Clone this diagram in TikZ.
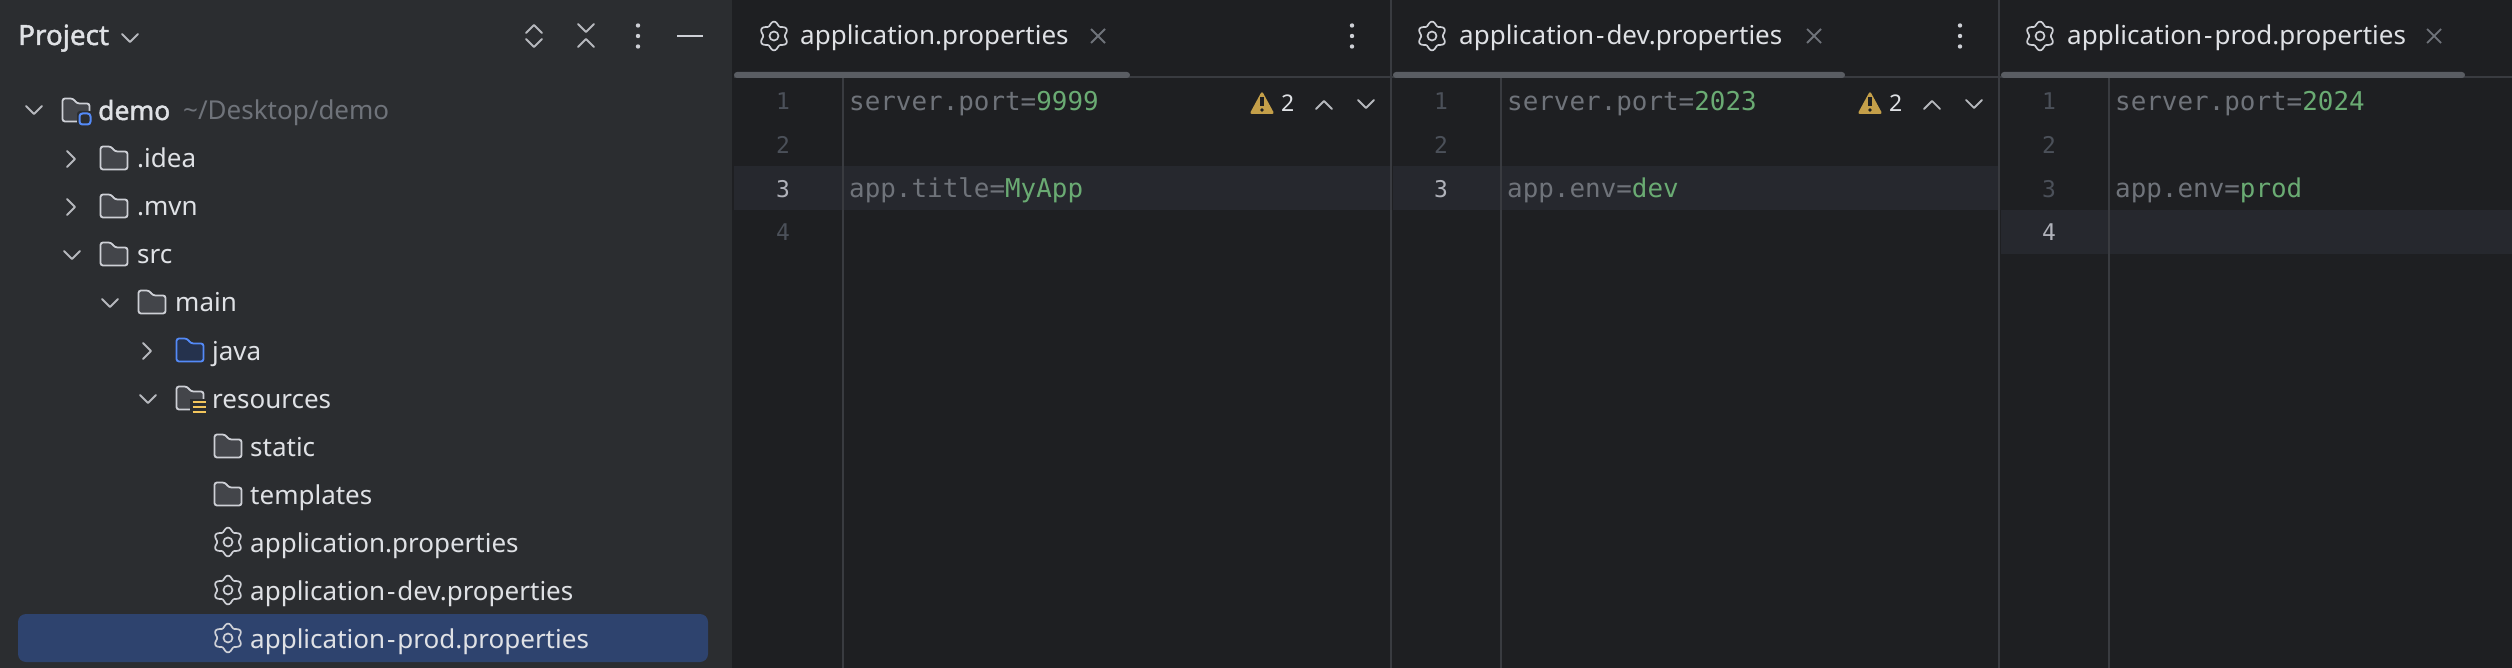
\documentclass[tikz,border=0pt]{standalone}
\usepackage{fontspec}
\setmainfont{Noto Sans}
\setmonofont{DejaVu Sans Mono}
\newfontfamily\heavyface[FakeBold=1.6]{Noto Sans}
\definecolor{sidebg}{RGB}{43, 45, 48}
\definecolor{editbg}{RGB}{30, 31, 34}
\definecolor{rowbg}{RGB}{38, 40, 46}
\definecolor{selbg}{RGB}{46, 67, 110}
\definecolor{divline}{RGB}{57, 59, 64}
\definecolor{tabmark}{RGB}{90, 93, 99}
\definecolor{uitext}{RGB}{223, 225, 229}
\definecolor{iconline}{RGB}{206, 208, 214}
\definecolor{mutedtext}{RGB}{111, 115, 122}
\definecolor{keygray}{RGB}{111, 115, 122}
\definecolor{valgreen}{RGB}{106, 171, 115}
\definecolor{numdim}{RGB}{75, 80, 89}
\definecolor{numcur}{RGB}{176, 178, 186}
\definecolor{folderfill}{RGB}{67, 69, 74}
\definecolor{bluefolder}{RGB}{84, 138, 247}
\definecolor{bluefill}{RGB}{37, 50, 77}
\definecolor{warnyellow}{RGB}{196, 159, 73}
\definecolor{resyellow}{RGB}{242, 197, 92}
\usetikzlibrary{positioning}
\tikzset{
  uilabel/.style={inner sep=0pt, anchor=base west, text=uitext, font=\fontsize{26}{30}\selectfont},
  boldlabel/.style={uilabel, font=\fontsize{26.5}{30}\selectfont\heavyface},
  codeline/.style={inner sep=0pt, anchor=base west, text=keygray, font=\fontsize{25.9}{30}\selectfont\ttfamily},
  linenum/.style={inner sep=0pt, anchor=base, text=numdim, font=\fontsize{23}{28}\selectfont\ttfamily},
  curnum/.style={linenum, text=numcur},
  chev/.style={line width=1.8pt, line cap=round, line join=round, color=iconline!85!sidebg},
  gearline/.style={line width=1.7pt, line join=round, color=iconline},
  folderline/.style={line width=1.8pt, rounded corners=2.5pt, draw=iconline, fill=folderfill},
}
% a hyphen with the width of the original one
\newcommand{\widehyph}{\kern2pt-\kern2pt}
% icons, all drawn round a centre point
\newcommand{\foldericon}[3][]{
  \draw[folderline, #1] (#2-13.5,#3-11.5) -- (#2-3,#3-11.5) -- (#2+1,#3-6.5) -- (#2+13.5,#3-6.5)
    -- (#2+13.5,#3+11.5) -- (#2-13.5,#3+11.5) -- cycle;
}
\newcommand{\gearicon}[2]{
  \begin{scope}[shift={(#1,#2)}]
    \draw[gearline] plot[domain=0:356, samples=60, smooth cycle] ({(12.6+1.8*cos(6*\x))*sin(\x)},{(12.6+1.8*cos(6*\x))*cos(\x)});
    \draw[gearline] (0,0) circle (4.5pt);
  \end{scope}
}
\newcommand{\chevdown}[2]{\draw[chev] (#1-8,#2-4) -- (#1,#2+4) -- (#1+8,#2-4);}
\newcommand{\chevup}[2]{\draw[chev] (#1-8,#2+4) -- (#1,#2-4) -- (#1+8,#2+4);}
\newcommand{\chevright}[2]{\draw[chev] (#1-4,#2-8) -- (#1+4,#2) -- (#1-4,#2+8);}
\newcommand{\threedots}[1]{
  \fill[iconline] (#1,25.5) circle (2.2pt) (#1,36) circle (2.2pt) (#1,46.5) circle (2.2pt);
}
\newcommand{\closemark}[1]{
  \draw[line width=1.8pt, mutedtext] (#1-7,29) -- (#1+7,43) (#1+7,29) -- (#1-7,43);
}
\newcommand{\warnmark}[2]{
  \fill[warnyellow, rounded corners=2.5pt] (#1,91) -- (#1+12.5,114) -- (#1-12.5,114) -- cycle;
  \fill[editbg] (#1-1.6,97.5) rectangle (#1+1.6,106.5);
  \fill[editbg] (#1,110) circle (1.9pt);
  \node[inner sep=0pt, anchor=base west, text=uitext, font=\fontsize{23}{28}\selectfont] (#2) at (#1+19,112) {2};
  \chevup{#1+62}{105}
  \chevdown{#1+104}{104}
}
\begin{document}
\begin{tikzpicture}[x=1pt, y=-1pt]
  \useasboundingbox (0,0) rectangle (2512,668);
  % Backgrounds
  \fill[editbg] (0,0) rectangle (2512,668);
  \fill[sidebg] (0,0) rectangle (732,668);
  \fill[rowbg] (734,166) rectangle (1391,210);
  \fill[rowbg] (1393,166) rectangle (1999,210);
  \fill[rowbg] (2001,210) rectangle (2512,254);
  \fill[selbg, rounded corners=8pt] (18,614) rectangle (708,662);

  % Pane borders
  \draw[line width=2pt, divline] (1391,0) -- (1391,668);
  \draw[line width=2pt, divline] (1999,0) -- (1999,668);
  \draw[line width=2pt, divline] (734,77) -- (2512,77);
  \draw[line width=2pt, divline] (843,78) -- (843,668);
  \draw[line width=2pt, divline] (1501,78) -- (1501,668);
  \draw[line width=2pt, divline] (2109,78) -- (2109,668);
  \fill[tabmark, rounded corners=3pt] (734,72) rectangle (1130,78);
  \fill[tabmark, rounded corners=3pt] (1393,72) rectangle (1845,78);
  \fill[tabmark, rounded corners=3pt] (2001,72) rectangle (2465,78);

  % Project header
  \node[boldlabel, font=\fontsize{27.8}{30}\selectfont\heavyface] (project) at (18,45) {Project};
  \chevdown{130}{38}
  \chevup{534}{29}
  \chevdown{534}{43}
  \chevdown{586}{28}
  \chevup{586}{43}
  \threedots{638}
  \draw[line width=2pt, iconline] (677,36) -- (703,36);

  % Project tree
  \chevdown{34}{110}
  \foldericon{76}{110}
  \fill[sidebg, rounded corners=3pt] (77,111) rectangle (93,127);
  \draw[line width=2pt, bluefolder, rounded corners=3pt] (79.5,113.5) rectangle (90.5,124.5);
  \node[boldlabel] (demo) at (98,120) {demo};
  \node[uilabel, text=mutedtext] (demopath) at (183,120) {\textasciitilde/Desktop/demo};
  \chevright{71}{159}
  \foldericon{114}{158}
  \node[uilabel] (idea) at (137,168) {.idea};
  \chevright{71}{207}
  \foldericon{114}{206}
  \node[uilabel] (mvn) at (137,216) {.mvn};
  \chevdown{72}{255}
  \foldericon{114}{254}
  \node[uilabel] (src) at (137,264) {src};
  \chevdown{110}{303}
  \foldericon{152}{302}
  \node[uilabel] (main) at (175,312) {main};
  \chevright{147}{351}
  \foldericon[draw=bluefolder, fill=bluefill]{190}{350}
  \node[uilabel] (java) at (212,360) {java};
  \chevdown{148}{399}
  \foldericon{190}{398}
  \fill[sidebg] (190,399) rectangle (208,413);
  \draw[line width=2pt, resyellow] (192.5,402) -- (206,402) (192.5,407) -- (206,407) (192.5,411.5) -- (206,411.5);
  \node[uilabel] (resources) at (212,408) {resources};
  \foldericon{228}{446}
  \node[uilabel] (static) at (250,456) {static};
  \foldericon{228}{494}
  \node[uilabel] (templates) at (250,504) {templates};
  \gearicon{228}{542}
  \node[uilabel] (appmain) at (250,552) {application.properties};
  \gearicon{228}{590}
  \node[uilabel] (appdev) at (250,600) {application\widehyph dev.properties};
  \gearicon{228}{638}
  \node[uilabel] (appprod) at (250,648) {application\widehyph prod.properties};

  % First pane
  \gearicon{774}{36}
  \node[uilabel] (tabmain) at (800,45) {application.properties};
  \closemark{1098}
  \threedots{1352}
  \node[linenum] (mainone) at (783,110) {1};
  \node[linenum] (maintwo) at (783,154) {2};
  \node[curnum] (mainthree) at (783,198) {3};
  \node[linenum] (mainfour) at (783,241) {4};
  \node[codeline] (mainport) at (849,111) {server.port=\textcolor{valgreen}{9999}};
  \node[codeline] (maintitle) at (849,198) {app.title=\textcolor{valgreen}{MyApp}};
  \warnmark{1262}{mainwarn}

  % Second pane
  \gearicon{1432}{36}
  \node[uilabel] (tabdev) at (1459,45) {application\widehyph dev.properties};
  \closemark{1814}
  \threedots{1960}
  \node[linenum] (devone) at (1441,110) {1};
  \node[linenum] (devtwo) at (1441,154) {2};
  \node[curnum] (devthree) at (1441,198) {3};
  \node[codeline] (devport) at (1507,111) {server.port=\textcolor{valgreen}{2023}};
  \node[codeline] (devenv) at (1507,198) {app.env=\textcolor{valgreen}{dev}};
  \warnmark{1870}{devwarn}

  % Third pane
  \gearicon{2040}{36}
  \node[uilabel] (tabprod) at (2067,45) {application\widehyph prod.properties};
  \closemark{2434}
  \node[linenum] (prodone) at (2049,110) {1};
  \node[linenum] (prodtwo) at (2049,154) {2};
  \node[linenum] (prodthree) at (2049,198) {3};
  \node[curnum] (prodfour) at (2049,241) {4};
  \node[codeline] (prodport) at (2115,111) {server.port=\textcolor{valgreen}{2024}};
  \node[codeline] (prodenv) at (2115,198) {app.env=\textcolor{valgreen}{prod}};
\end{tikzpicture}
\end{document}
